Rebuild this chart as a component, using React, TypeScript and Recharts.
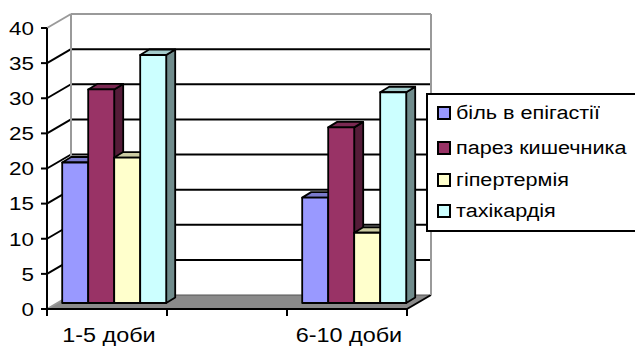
import { Bar, BarChart, CartesianGrid, XAxis, YAxis } from "recharts";

const categories = ["1-5 доби", "6-10 доби"];
const seriesNames = ["біль в епігастії", "парез кишечника", "гіпертермія", "тахікардія"];
const painValues = [20, 15];
const paresisValues = [30.4, 25];
const feverValues = [20.7, 10];
const tachyValues = [35.3, 30];
const yTicks = [0, 5, 10, 15, 20, 25, 30, 35, 40];
const seriesColors = ["#9999FF", "#993366", "#FFFFCC", "#CCFFFF"];

const seriesValues = [painValues, paresisValues, feverValues, tachyValues];
const data = categories.map((name, i) => {
  const row: Record<string, string | number> = { name };
  seriesValues.forEach((vals, k) => {
    row[`s${k}`] = vals[i];
  });
  return row;
});

// depth of the back wall and of each column
const WALL_DX = 24;
const WALL_DY = -14;
const BAR_SHIFT_X = 8;
const BAR_SHIFT_Y = -6;
const BAR_DX = 9;
const BAR_DY = -5.5;

const FONT = "'Liberation Sans', Arial, sans-serif";
const LINE_W = 2;

function shade(hex: string, k: number) {
  const n = parseInt(hex.slice(1), 16);
  const r = Math.round(((n >> 16) & 255) * k);
  const g = Math.round(((n >> 8) & 255) * k);
  const b = Math.round((n & 255) * k);
  return `rgb(${r},${g},${b})`;
}

function Column3D(props: any) {
  const { x, y, width: w, height: h, fill } = props;
  if (w == null || h == null) return null;
  const fx = x + BAR_SHIFT_X;
  const fy = y + BAR_SHIFT_Y;
  const top = `${fx},${fy} ${fx + BAR_DX},${fy + BAR_DY} ${fx + w + BAR_DX},${fy + BAR_DY} ${fx + w},${fy}`;
  const side = `${fx + w},${fy} ${fx + w + BAR_DX},${fy + BAR_DY} ${fx + w + BAR_DX},${fy + h + BAR_DY} ${fx + w},${fy + h}`;
  return (
    <g stroke="#000" strokeWidth={1.8} strokeLinejoin="round">
      <polygon points={side} fill={shade(fill, 0.55)} />
      <polygon points={top} fill={shade(fill, 0.8)} />
      <rect x={fx} y={fy} width={w} height={h} fill={fill} />
    </g>
  );
}

// back wall gridline, side wall diagonal, floor and wall edges
function WallLine(p: any) {
  const { x1, x2, y1, y, height, index } = p;
  const bottom = Math.abs(y1 - (y + height)) < 1;
  const top = Math.abs(y1 - y) < 1;
  const bx1 = x1 + WALL_DX;
  const bx2 = x2 + WALL_DX;
  const by = y1 + WALL_DY;
  if (bottom) {
    return (
      <g key={`wall-${index}`}>
        <polygon points={`${x1},${y1} ${x2},${y1} ${bx2},${by} ${bx1},${by}`} fill="#8a8a8a" />
        <line x1={bx1} y1={by} x2={bx2} y2={by} stroke="#555" strokeWidth={1.2} />
        <line x1={x1} y1={y1} x2={bx1} y2={by} stroke="#999" strokeWidth={LINE_W} />
        <line x1={x2} y1={y1} x2={bx2} y2={by} stroke="#000" strokeWidth={LINE_W} />
      </g>
    );
  }
  if (top) {
    const floorY = y + height + WALL_DY;
    return (
      <g key={`wall-${index}`} stroke="#9a9a9a" strokeWidth={LINE_W}>
        <line x1={bx1} y1={by} x2={bx2} y2={by} />
        <line x1={x1} y1={y1} x2={bx1} y2={by} />
        <line x1={bx1} y1={by} x2={bx1} y2={floorY} />
        <line x1={bx2} y1={by} x2={bx2} y2={floorY} />
      </g>
    );
  }
  return (
    <g key={`wall-${index}`} stroke="#000" strokeWidth={LINE_W}>
      <line x1={bx1} y1={by} x2={bx2} y2={by} />
      <line x1={x1} y1={y1} x2={bx1} y2={by} />
    </g>
  );
}

function YTick({ x, y, payload }: any) {
  return (
    <text
      transform={`translate(${x},${y}) scale(1.18,1)`}
      textAnchor="end"
      dy="0.36em"
      fontSize={19}
      fontFamily={FONT}
      fill="#000"
    >
      {payload.value}
    </text>
  );
}

function XTick({ x, y, payload }: any) {
  return (
    <g>
      <line x1={x - 60} y1={y} x2={x - 60} y2={y + 7} stroke="#000" strokeWidth={LINE_W} />
      <line x1={x + 60} y1={y} x2={x + 60} y2={y + 7} stroke="#000" strokeWidth={LINE_W} />
      <text
        transform={`translate(${x + 2},${y + 33}) scale(1.2,1)`}
        textAnchor="middle"
        fontSize={19.5}
        fontFamily={FONT}
        fill="#000"
      >
        {payload.value}
      </text>
    </g>
  );
}

function ChartLegend() {
  return (
    <div
      style={{
        position: "absolute",
        left: 426,
        top: 93,
        width: 215,
        height: 139,
        border: "2px solid #000",
        background: "#fff",
        boxSizing: "border-box",
        fontFamily: FONT,
        fontSize: 18,
      }}
    >
      {seriesNames.map((name, i) => (
        <div
          key={name}
          style={{
            position: "absolute",
            left: 9,
            top: [8, 43, 75, 106][i],
            height: 20,
            display: "flex",
            alignItems: "center",
            whiteSpace: "nowrap",
          }}
        >
          <span
            style={{
              width: 14,
              height: 14,
              background: seriesColors[i],
              border: "2px solid #000",
              boxSizing: "border-box",
              flexShrink: 0,
            }}
          />
          <span style={{ marginLeft: 5, transform: "scaleX(1.2)", transformOrigin: "left center" }}>{name}</span>
        </div>
      ))}
    </div>
  );
}

export default function App() {
  return (
    <div style={{ position: "absolute", left: 0, top: 0, width: 635, height: 347, background: "#fff" }}>
      <BarChart
        width={635}
        height={347}
        data={data}
        margin={{ top: 28, right: 228, bottom: 0, left: 0 }}
        barCategoryGap="28%"
        barGap={0}
      >
        <CartesianGrid vertical={false} horizontal={WallLine} />
        <XAxis
          dataKey="name"
          padding={{ left: -60, right: -60 }}
          height={38}
          interval={0}
          tickLine={false}
          tickSize={0}
          tickMargin={0}
          axisLine={{ stroke: "#000", strokeWidth: LINE_W }}
          tick={<XTick />}
        />
        <YAxis
          domain={[0, 40]}
          ticks={yTicks}
          interval={0}
          width={47}
          tickSize={6}
          tickMargin={7}
          axisLine={{ stroke: "#000", strokeWidth: LINE_W }}
          tickLine={{ stroke: "#000", strokeWidth: LINE_W }}
          tick={<YTick />}
        />
        {seriesNames.map((name, k) => (
          <Bar
            key={name}
            dataKey={`s${k}`}
            name={name}
            fill={seriesColors[k]}
            shape={<Column3D />}
            isAnimationActive={false}
          />
        ))}
      </BarChart>
      <ChartLegend />
    </div>
  );
}
